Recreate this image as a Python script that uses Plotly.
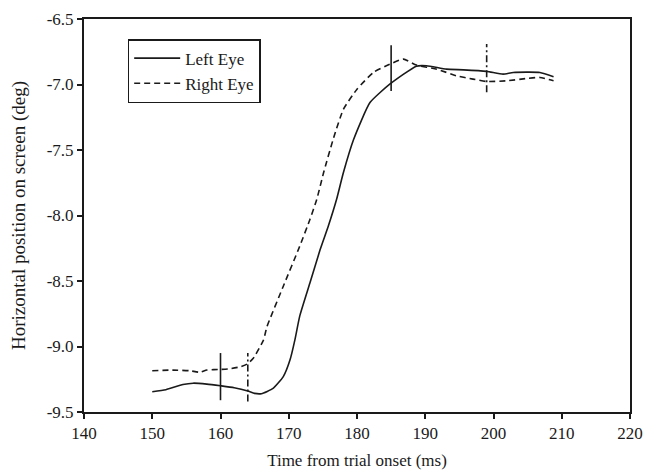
import plotly.graph_objects as go

# Left eye (solid)
left_t = [150, 152, 154.5, 156, 158, 160, 162, 164, 165, 166, 167.7, 169.2, 170.2, 170.9,
          171.6, 173.1, 174.6, 175.8, 177.0, 178.0, 179.5, 181.9, 184.8, 188.7, 190.2,
          193.1, 195.6, 199.0, 201.4, 202.9, 206.8, 208.8]
left_pos = [-9.345, -9.33, -9.29, -9.28, -9.287, -9.30, -9.315, -9.34, -9.358, -9.36, -9.32,
            -9.23, -9.10, -8.95, -8.77, -8.516, -8.26, -8.08, -7.878, -7.674, -7.42, -7.138,
            -6.998, -6.86, -6.857, -6.883, -6.888, -6.90, -6.921, -6.908, -6.908, -6.94]

# Right eye (dashed)
right_t = [150, 153, 155.5, 157, 158, 160, 161.4, 162.9, 163.9, 164.8, 166.3, 166.8, 169.2,
           171.6, 173.1, 174.1, 175.1, 176.5, 178.0, 180.0, 182.4, 184.8, 186.8, 188.7,
           191.7, 194.6, 197.0, 199.0, 201.9, 204.9, 206.8, 208.8]
right_pos = [-9.185, -9.18, -9.185, -9.197, -9.18, -9.175, -9.17, -9.155, -9.134, -9.09,
             -8.95, -8.85, -8.54, -8.236, -8.03, -7.878, -7.674, -7.42, -7.19, -7.036,
             -6.908, -6.845, -6.806, -6.852, -6.883, -6.934, -6.959, -6.977, -6.972,
             -6.954, -6.946, -6.972]

# Event markers (onset / offset)
mark_t = [160, 164, 185, 199]
mark_low = [-9.41, -9.42, -7.05, -7.06]
mark_high = [-9.05, -9.05, -6.70, -6.69]
mark_eye = ["left", "right", "left", "right"]

x_ticks = [140, 150, 160, 170, 180, 190, 200, 210, 220]
y_ticks = [-6.5, -7.0, -7.5, -8.0, -8.5, -9.0, -9.5]
y_tick_text = ["-6.5", "-7.0", "-7.5", "-8.0", "-8.5", "-9.0", "-9.5"]

FONT = "Liberation Serif"
INK = "#1a1a1a"

fig = go.Figure()
fig.add_trace(go.Scatter(x=left_t, y=left_pos, mode="lines", name="Left Eye",
                         line=dict(color=INK, width=1.6, shape="spline", smoothing=0.5)))
fig.add_trace(go.Scatter(x=right_t, y=right_pos, mode="lines", name="Right Eye",
                         line=dict(color=INK, width=1.6, dash="6px,4px",
                                   shape="spline", smoothing=0.5)))
for t, lo, hi, eye in zip(mark_t, mark_low, mark_high, mark_eye):
    fig.add_trace(go.Scatter(x=[t, t], y=[lo, hi], mode="lines", showlegend=False,
                             hoverinfo="skip",
                             line=dict(color=INK, width=1.6,
                                       dash="solid" if eye == "left" else "7px,3px,2px,3px")))

axis_common = dict(showline=True, linecolor=INK, linewidth=2, mirror=True,
                   ticks="outside", ticklen=5, tickwidth=1.5, tickcolor=INK,
                   showgrid=False, zeroline=False, automargin=False,
                   tickfont=dict(family=FONT, size=17, color=INK))

fig.update_layout(
    width=646, height=475,
    margin=dict(l=84, r=16, t=19, b=63),
    paper_bgcolor="white", plot_bgcolor="white",
    font=dict(family=FONT, color=INK),
    xaxis=dict(range=[140, 220], tickvals=x_ticks,
               title=dict(text="Time from trial onset (ms)", standoff=12,
                          font=dict(family=FONT, size=17, color=INK)),
               **axis_common),
    yaxis=dict(range=[-9.5, -6.5], tickvals=y_ticks, ticktext=y_tick_text,
               title=dict(text="Horizontal position on screen (deg)", standoff=16,
                          font=dict(family=FONT, size=19, color=INK)),
               **axis_common),
    legend=dict(x=0.08, y=0.949, xanchor="left", yanchor="top",
                bgcolor="white", bordercolor=INK, borderwidth=1.5,
                font=dict(family=FONT, size=17, color=INK),
                tracegroupgap=0, itemwidth=46),
)

fig.write_html("out.html")
